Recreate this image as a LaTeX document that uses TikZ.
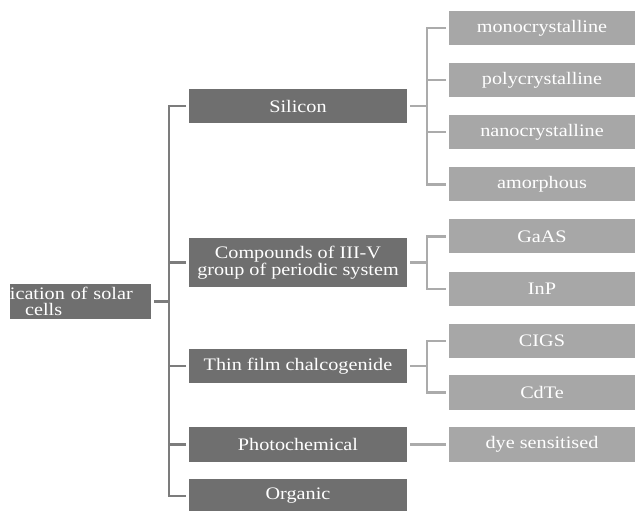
\documentclass[tikz,border=0pt]{standalone}
\usepackage{fontspec}
\setmainfont{Liberation Serif}[FakeStretch=1.15]
\usepackage{xcolor}
\usetikzlibrary{positioning}
\definecolor{maingray}{HTML}{6F6F6F}
\definecolor{subgray}{HTML}{A7A7A7}
\definecolor{trunkgray}{HTML}{7C7C7C}
\definecolor{brackgray}{HTML}{ABABAB}

\begin{document}
\begin{tikzpicture}[
x=0.03cm, y=-0.03cm,
every node/.style={align=center, text=white, font=\fontsize{15}{13.5}\selectfont, inner sep=0pt, outer sep=2.5pt},
rootbox/.style={fill=maingray, text width=4.23cm, align=left, minimum height=1.05cm},
mainbox/.style={fill=maingray, minimum width=6.54cm, minimum height=1.02cm},
subbox/.style={fill=subgray, minimum width=5.58cm, minimum height=1.02cm},
trunk/.style={draw=trunkgray, line width=2.2pt},
bracket/.style={draw=brackgray, line width=2.2pt}
]
\useasboundingbox (0,0) rectangle (635,511);

% ====== Root ======
\node[rootbox, anchor=west] (root) at (7,301.5) {ication of solar\\\hspace*{13pt}cells};

% ====== Main groups ======
\node[mainbox] (silicon) at (298,106) {Silicon};
\node[mainbox, minimum height=1.47cm] (compounds) at (298,262.5) {Compounds of III-V\\group of periodic system};
\node[mainbox] (thinfilm) at (298,366) {Thin film chalcogenide};
\node[mainbox] (photochem) at (298,444.5) {Photochemical};
\node[mainbox] (organic) at (298,496) {Organic};

% ====== Sub types ======
\node[subbox] (mono) at (542,28) {monocrystalline};
\node[subbox] (poly) at (542,80) {polycrystalline};
\node[subbox] (nano) at (542,132) {nanocrystalline};
\node[subbox] (amorph) at (542,184.5) {amorphous};
\node[subbox] (gaas) at (542,236.5) {GaAS};
\node[subbox] (inp) at (542,289) {InP};
\node[subbox] (cigs) at (542,341) {CIGS};
\node[subbox] (cdte) at (542,392.5) {CdTe};
\node[subbox] (dye) at (542,444.5) {dye sensitised};

% ====== Trunk ======
\coordinate (tk) at (169,0);
\draw[trunk] (root.east) -- (root.east -| tk);
\draw[trunk] (silicon.west) -| (tk |- organic.west) -- (organic.west);
\draw[trunk] (compounds.west) -- (compounds.west -| tk);
\draw[trunk] (thinfilm.west) -- (thinfilm.west -| tk);
\draw[trunk] (photochem.west) -- (photochem.west -| tk);

% ====== Brackets ======
\coordinate (br) at (427,0);
\draw[bracket] (silicon.east) -- (silicon.east -| br);
\draw[bracket] (mono.west) -| (br |- amorph.west) -- (amorph.west);
\draw[bracket] (poly.west) -- (poly.west -| br);
\draw[bracket] (nano.west) -- (nano.west -| br);

\draw[bracket] (compounds.east) -- (compounds.east -| br);
\draw[bracket] (gaas.west) -| (br |- inp.west) -- (inp.west);

\draw[bracket] (thinfilm.east) -- (thinfilm.east -| br);
\draw[bracket] (cigs.west) -| (br |- cdte.west) -- (cdte.west);

\draw[bracket] (photochem.east) -- (dye.west);

\end{tikzpicture}
\end{document}
